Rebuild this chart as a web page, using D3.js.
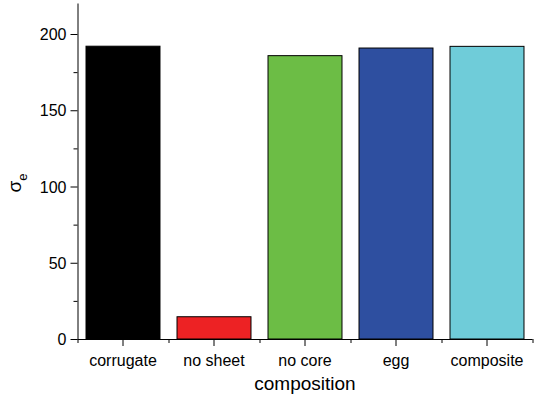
<!DOCTYPE html>
<html>
<head>
<meta charset="utf-8">
<script src="https://cdn.jsdelivr.net/npm/d3@7"></script>
<style>
  body { margin: 0; background: #fff; }
  svg text { font-family: "Liberation Sans", Arial, sans-serif; fill: #000; }
</style>
</head>
<body>
<div id="chart"></div>
<script>
const categories = ["corrugate", "no sheet", "no core", "egg", "composite"];
const sigmaValues = [192, 14.6, 185.8, 190.8, 191.9];
const barColors = ["#000000", "#ed2224", "#6cbd45", "#2e4fa0", "#6fccd9"];
const yMajorTicks = [0, 50, 100, 150, 200];
const yMinorTicks = [25, 75, 125, 175];

const width = 538;
const height = 401;
const margin = { top: 3.5, right: 5, bottom: 62, left: 77.5 };
const plotW = width - margin.left - margin.right;
const plotH = height - margin.top - margin.bottom;

const svg = d3.select("#chart")
    .append("svg")
    .attr("width", width)
    .attr("height", height);

const g = svg.append("g")
    .attr("transform", "translate(" + margin.left + "," + margin.top + ")");

const x = d3.scaleBand()
    .domain(categories)
    .range([0, 455])
    .paddingInner(0.187)
    .paddingOuter(0.0935);

const y = d3.scaleLinear()
    .domain([0, 220])
    .range([plotH, 0]);

// bars
g.append("g")
    .attr("class", "bars")
    .selectAll("rect")
    .data(categories)
    .join("rect")
    .attr("x", d => x(d))
    .attr("y", (d, i) => y(sigmaValues[i]))
    .attr("width", x.bandwidth())
    .attr("height", (d, i) => y(0) - y(sigmaValues[i]))
    .attr("fill", (d, i) => barColors[i])
    .attr("stroke", "#000")
    .attr("stroke-width", 1);

// y axis
const yAxis = g.append("g")
    .attr("class", "yAxis")
    .call(d3.axisLeft(y).tickValues(yMajorTicks).tickSize(7).tickSizeOuter(0).tickPadding(4));

yAxis.select(".domain").attr("d", "M0.5," + y(220) + "V" + y(0));

g.append("g")
    .attr("class", "yMinor")
    .call(d3.axisLeft(y).tickValues(yMinorTicks).tickSize(4).tickFormat(""))
    .select(".domain").remove();

yAxis.selectAll("text")
    .attr("font-size", 16)
    .attr("dy", "0.35em");

// x axis
const xAxis = g.append("g")
    .attr("class", "xAxis")
    .attr("transform", "translate(0," + plotH + ")")
    .call(d3.axisBottom(x).tickSize(7).tickSizeOuter(0).tickPadding(9));

xAxis.select(".domain").attr("d", "M0,0.5H455");

xAxis.selectAll("text")
    .attr("font-size", 16);

// minor ticks on category boundaries
g.append("g")
    .attr("class", "xMinor")
    .attr("transform", "translate(0," + plotH + ")")
    .selectAll("line")
    .data(d3.range(categories.length + 1))
    .join("line")
    .attr("x1", i => x.step() * i + 0.5)
    .attr("x2", i => x.step() * i + 0.5)
    .attr("y1", 0)
    .attr("y2", 4)
    .attr("stroke", "#000");

// axis titles
svg.append("text")
    .attr("x", margin.left + 455 / 2)
    .attr("y", 390)
    .attr("text-anchor", "middle")
    .attr("font-size", 19)
    .text("composition");

const yTitle = svg.append("text")
    .attr("transform", "translate(21,183) rotate(-90)")
    .attr("text-anchor", "middle")
    .attr("font-size", 19);
yTitle.append("tspan").text("σ");
yTitle.append("tspan")
    .attr("font-size", 13)
    .attr("dy", 6)
    .text("e");
</script>
</body>
</html>
